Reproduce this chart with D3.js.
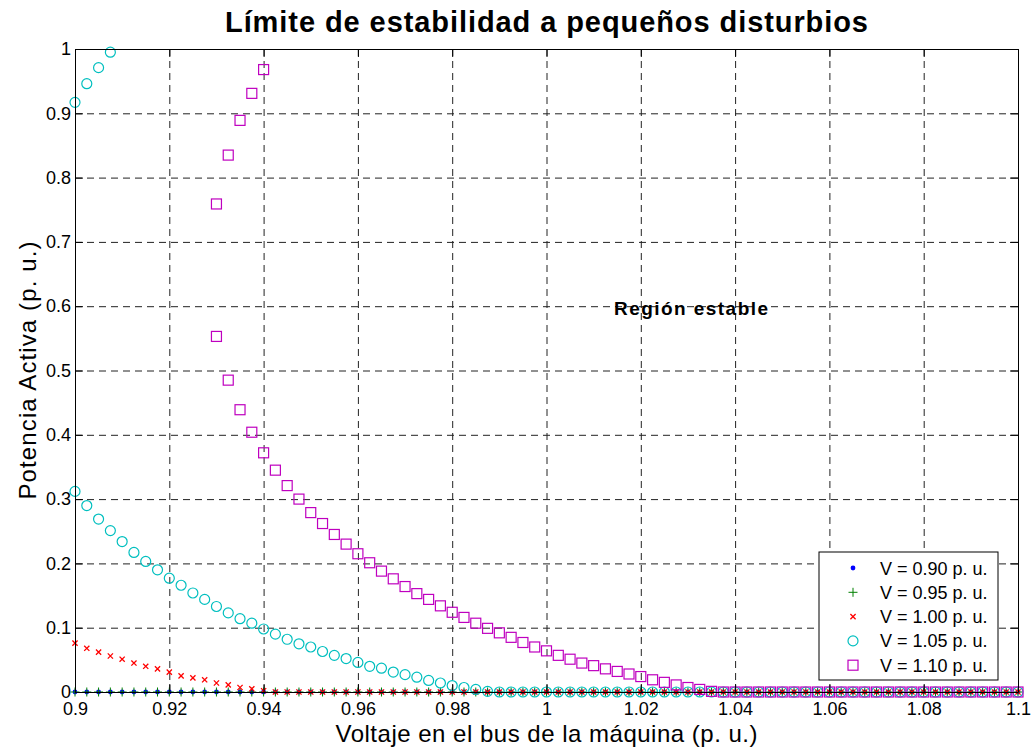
<!DOCTYPE html>
<html>
<head>
<meta charset="utf-8">
<script src="https://cdn.jsdelivr.net/npm/d3@7"></script>
<style>
  body { margin: 0; background: #fff; }
  svg text { font-family: Arial, "Liberation Sans", Helvetica, sans-serif; fill: #000; }
  .grid line { stroke: #222; stroke-width: 1; stroke-dasharray: 7,5; }
  .grid .domain { display: none; }
  .axis .domain, .axis line { stroke: #000; stroke-width: 1; }
  .axis text { font-size: 18px; }
</style>
</head>
<body>
<div id="container"></div>
<script>
// --- data ---
var voltage = [0.9, 0.9025, 0.905, 0.9075, 0.91, 0.9125, 0.915, 0.9175, 0.92, 0.9225,
  0.925, 0.9275, 0.93, 0.9325, 0.935, 0.9375, 0.94, 0.9425, 0.945, 0.9475,
  0.95, 0.9525, 0.955, 0.9575, 0.96, 0.9625, 0.965, 0.9675, 0.97, 0.9725,
  0.975, 0.9775, 0.98, 0.9825, 0.985, 0.9875, 0.99, 0.9925, 0.995, 0.9975,
  1.0, 1.0025, 1.005, 1.0075, 1.01, 1.0125, 1.015, 1.0175, 1.02, 1.0225,
  1.025, 1.0275, 1.03, 1.0325, 1.035, 1.0375, 1.04, 1.0425, 1.045, 1.0475,
  1.05, 1.0525, 1.055, 1.0575, 1.06, 1.0625, 1.065, 1.0675, 1.07, 1.0725,
  1.075, 1.0775, 1.08, 1.0825, 1.085, 1.0875, 1.09, 1.0925, 1.095, 1.0975,
  1.1];

var p090 = [0,0,0,0,0,0,0,0,0,0, 0,0,0,0,0,0,0,0,0,0, 0,0,0,0,0,0,0,0,0,0,
  0,0,0,0,0,0,0,0,0,0, 0,0,0,0,0,0,0,0,0,0, 0,0,0,0,0,0,0,0,0,0,
  0,0,0,0,0,0,0,0,0,0, 0,0,0,0,0,0,0,0,0,0, 0];

var p095 = [0,0,0,0,0,0,0,0,0,0, 0,0,0,0,0,0,0,0,0,0, 0,0,0,0,0,0,0,0,0,0,
  0,0,0,0,0,0,0,0,0,0, 0,0,0,0,0,0,0,0,0,0, 0,0,0,0,0,0,0,0,0,0,
  0,0,0,0,0,0,0,0,0,0, 0,0,0,0,0,0,0,0,0,0, 0];

var p100 = [0.076,0.068,0.062,0.056,0.051,0.045,0.040,0.036,0.031,0.025,
  0.022,0.019,0.014,0.011,0.007,0.005,0.002,0,0,0, 0,0,0,0,0,0,0,0,0,0,
  0,0,0,0,0,0,0,0,0,0, 0,0,0,0,0,0,0,0,0,0, 0,0,0,0,0,0,0,0,0,0,
  0,0,0,0,0,0,0,0,0,0, 0,0,0,0,0,0,0,0,0,0, 0];

var p105 = [0.312,0.290,0.269,0.251,0.234,0.217,0.203,0.190,0.177,0.166,
  0.154,0.144,0.133,0.123,0.114,0.107,0.098,0.090,0.082,0.075,
  0.070,0.063,0.057,0.052,0.046,0.040,0.037,0.031,0.027,0.023,
  0.018,0.014,0.010,0.007,0.004,0.001,0,0,0,0, 0,0,0,0,0,0,0,0,0,0,
  0,0,0,0,0,0,0,0,0,0, 0,0,0,0,0,0,0,0,0,0, 0,0,0,0,0,0,0,0,0,0, 0];

var p105upper = [0.917,0.946,0.971,0.995];   // first four voltages only

var p110 = [null,null,null,null,null,null,null,null,null,null, null,null,
  0.553,0.485,0.439,0.404,0.372,0.345,0.321,0.300,
  0.279,0.262,0.245,0.230,0.215,0.201,0.188,0.176,0.164,0.153,
  0.144,0.134,0.124,0.116,0.107,0.099,0.092,0.085,0.077,0.070,
  0.064,0.057,0.051,0.045,0.041,0.036,0.032,0.028,0.024,0.019,
  0.015,0.011,0.007,0.004,0.001,0,0,0,0,0,
  0,0,0,0,0,0,0,0,0,0, 0,0,0,0,0,0,0,0,0,0, 0];

var p110upper = [0.759,0.835,0.889,0.931,0.968];  // voltages 0.93 .. 0.94
var p110upperStart = 12;

var xTicks = [0.9, 0.92, 0.94, 0.96, 0.98, 1.0, 1.02, 1.04, 1.06, 1.08, 1.1];
var xTickLabels = ["0.9","0.92","0.94","0.96","0.98","1","1.02","1.04","1.06","1.08","1.1"];
var yTicks = [0, 0.1, 0.2, 0.3, 0.4, 0.5, 0.6, 0.7, 0.8, 0.9, 1];
var yTickLabels = ["0","0.1","0.2","0.3","0.4","0.5","0.6","0.7","0.8","0.9","1"];

var legendLabels = ["V = 0.90 p. u.", "V = 0.95 p. u.", "V = 1.00 p. u.", "V = 1.05 p. u.", "V = 1.10 p. u."];

// --- layout ---
var width = 1031, height = 752;
var plotLeft = 75, plotRight = 1018, plotTop = 49, plotBottom = 692;

var x = d3.scaleLinear().domain([0.9, 1.1]).range([plotLeft, plotRight]);
var y = d3.scaleLinear().domain([0, 1]).range([plotBottom, plotTop]);

var svg = d3.select("#container").append("svg")
  .attr("width", width)
  .attr("height", height);

// grid
svg.append("g")
  .attr("class", "grid")
  .attr("transform", "translate(0," + plotBottom + ")")
  .call(d3.axisBottom(x).tickValues(xTicks.slice(1, -1)).tickSize(-(plotBottom - plotTop)).tickFormat(""));
svg.append("g")
  .attr("class", "grid")
  .attr("transform", "translate(" + plotLeft + ",0)")
  .call(d3.axisLeft(y).tickValues(yTicks.slice(1, -1)).tickSize(-(plotRight - plotLeft)).tickFormat(""));

function pairs(vals, offset) {
  var out = [];
  vals.forEach(function(v, i) {
    if (v !== null) out.push([voltage[i + (offset || 0)], v]);
  });
  return out;
}

var plot = svg.append("g").attr("class", "marks");

function drawSeries(data, shape) {
  var g = plot.append("g");
  g.selectAll("g")
    .data(data)
    .enter().append("g")
    .attr("transform", function(d) { return "translate(" + x(d[0]) + "," + y(d[1]) + ")"; })
    .each(function() { shape(d3.select(this)); });
}

function dot(s) { s.append("circle").attr("r", 2.4).attr("fill", "#0000ff"); }
function plus(s) {
  s.append("path").attr("d", "M-4.5,0H4.5M0,-4.5V4.5")
    .attr("stroke", "#008000").attr("stroke-width", 1).attr("fill", "none");
}
function cross(s) {
  s.append("path").attr("d", "M-2.6,-2.6L2.6,2.6M-2.6,2.6L2.6,-2.6")
    .attr("stroke", "#ff0000").attr("stroke-width", 1.3).attr("fill", "none");
}
function ring(s) {
  s.append("circle").attr("r", 5)
    .attr("stroke", "#00bfbf").attr("stroke-width", 1.2).attr("fill", "none");
}
function square(s) {
  s.append("rect").attr("x", -5).attr("y", -5).attr("width", 10).attr("height", 10)
    .attr("stroke", "#bf00bf").attr("stroke-width", 1.2).attr("fill", "none");
}

drawSeries(pairs(p090), dot);
drawSeries(pairs(p095), plus);
drawSeries(pairs(p100), cross);
drawSeries(pairs(p105), ring);
drawSeries(pairs(p105upper), ring);
drawSeries(pairs(p110), square);
drawSeries(pairs(p110upper, p110upperStart), square);

// axes (ticks pointing inward, box all round)
svg.append("g")
  .attr("class", "axis")
  .attr("transform", "translate(0," + plotBottom + ")")
  .call(d3.axisBottom(x).tickValues(xTicks).tickSizeInner(-8).tickSizeOuter(0).tickPadding(10)
    .tickFormat(function(d, i) { return xTickLabels[i]; }));
svg.append("g")
  .attr("class", "axis")
  .attr("transform", "translate(" + plotLeft + ",0)")
  .call(d3.axisLeft(y).tickValues(yTicks).tickSizeInner(-8).tickSizeOuter(0).tickPadding(4)
    .tickFormat(function(d, i) { return yTickLabels[i]; }));
svg.append("g")
  .attr("class", "axis")
  .attr("transform", "translate(0," + plotTop + ")")
  .call(d3.axisTop(x).tickValues(xTicks).tickSizeInner(-8).tickSizeOuter(0).tickFormat(""));
svg.append("g")
  .attr("class", "axis")
  .attr("transform", "translate(" + plotRight + ",0)")
  .call(d3.axisRight(y).tickValues(yTicks).tickSizeInner(-8).tickSizeOuter(0).tickFormat(""));

// titles
svg.append("text")
  .attr("x", (plotLeft + plotRight) / 2)
  .attr("y", 32)
  .attr("text-anchor", "middle")
  .attr("textLength", 643)
  .attr("lengthAdjust", "spacing")
  .style("font-size", "29px")
  .style("font-weight", "bold")
  .text("Límite de estabilidad a pequeños disturbios");

svg.append("text")
  .attr("x", (plotLeft + plotRight) / 2)
  .attr("y", 742)
  .attr("text-anchor", "middle")
  .attr("textLength", 422)
  .attr("lengthAdjust", "spacing")
  .style("font-size", "24px")
  .text("Voltaje en el bus de la máquina (p. u.)");

svg.append("text")
  .attr("transform", "translate(36," + ((plotTop + plotBottom) / 2) + ") rotate(-90)")
  .attr("text-anchor", "middle")
  .attr("textLength", 258)
  .attr("lengthAdjust", "spacing")
  .style("font-size", "24px")
  .text("Potencia Activa (p. u.)");

svg.append("text")
  .attr("x", 691)
  .attr("y", 315)
  .attr("text-anchor", "middle")
  .attr("textLength", 154)
  .attr("lengthAdjust", "spacing")
  .style("font-size", "19px")
  .style("font-weight", "bold")
  .text("Región estable");

// legend
var legend = svg.append("g").attr("class", "legend").attr("transform", "translate(819,552)");
legend.append("rect")
  .attr("width", 179).attr("height", 128)
  .attr("fill", "#fff").attr("stroke", "#000").attr("stroke-width", 1);

var shapes = [dot, plus, cross, ring, square];
var item = legend.selectAll(".item")
  .data(legendLabels)
  .enter().append("g")
  .attr("class", "item")
  .attr("transform", function(d, i) { return "translate(0," + (16 + i * 24.3) + ")"; });

item.append("g")
  .attr("transform", "translate(34,0)")
  .each(function(d, i) { shapes[i](d3.select(this)); });

item.append("text")
  .attr("x", 61)
  .attr("y", 6.5)
  .style("font-size", "18px")
  .text(function(d) { return d; });
</script>
</body>
</html>
